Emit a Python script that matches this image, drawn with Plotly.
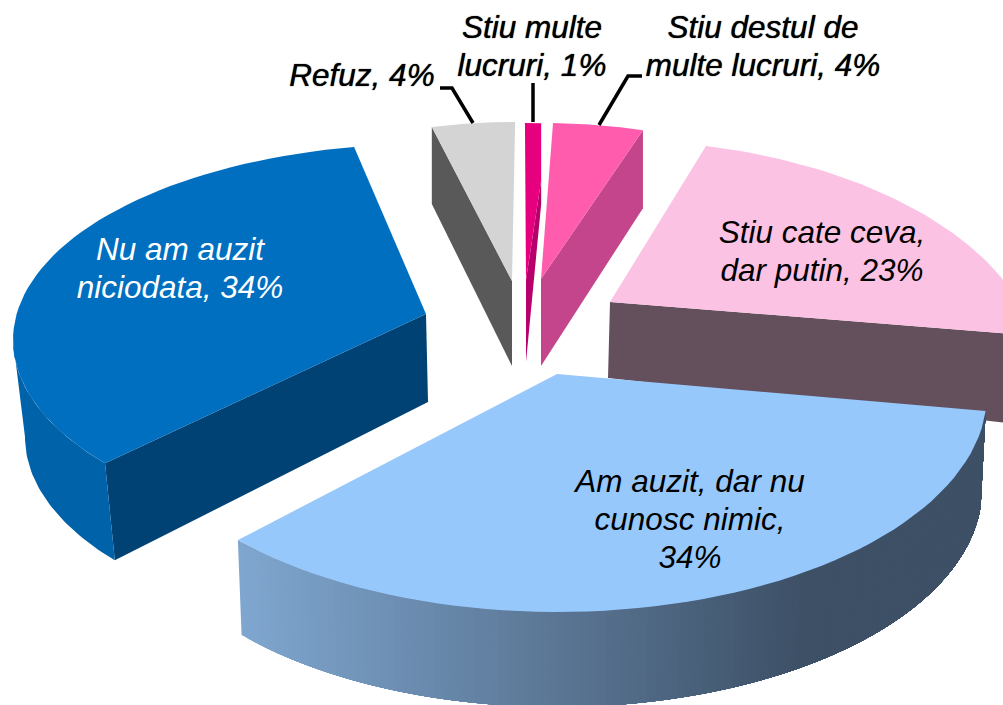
import numpy as np
import plotly.graph_objects as go

# ---- data (clockwise from the top) ----
categories = ["Stiu multe lucruri", "Stiu destul de multe lucruri", "Stiu cate ceva, dar putin",
              "Am auzit, dar nu cunosc nimic", "Nu am auzit niciodata", "Refuz"]
values = [1, 4, 23, 34, 34, 4]
label_lines = [["Stiu multe", "lucruri, 1%"], ["Stiu destul de", "multe lucruri, 4%"], ["Stiu cate ceva,", "dar putin, 23%"],
               ["Am auzit, dar nu", "cunosc nimic,", "34%"], ["Nu am auzit", "niciodata, 34%"], ["Refuz, 4%"]]

# ---- styling and 3-D look of every exploded slice ----
face = ["#E6007E", "#FF5CAE", "#FBC2E3", "#97C8FB", "#006FBF", "#D4D4D4"]
wall = ["#B8006C", "#C4458C", "#64505C", "#3D5066", "#004274", "#595959"]
geom = [
    dict(apex=(526, 280), a=300, b=137, e=-20, ustart=-0.2, gain=0.86, base=(526, 362), a2=300, b2=137, e2=-21, radial="end", shoulder=57),
    dict(apex=(541, 279), a=300, b=120, e=-36, ustart=2.3, gain=1.22, base=(541, 366), a2=300, b2=120, e2=-45, radial="end"),
    dict(apex=(610, 302), a=430, b=235, e=73, ustart=12.9, gain=0.815, base=(608, 378), a2=430, b2=235, e2=87, radial="end"),
    dict(apex=(557, 374), a=430, b=218, e=20, ustart=94.5, gain=1.09, base=(557, 466), a2=425, b2=218, e2=23, gradient=True),
    dict(apex=(426, 314), a=413, b=196, e=26, ustart=231, gain=0.972, base=(428, 402), a2=403, b2=196, e2=35, radial="start", rim_to=270, rim_color="#0062A8"),
    dict(apex=(512, 281), a=300, b=139, e=-20, ustart=344.5, gain=1.118, base=(512, 366), a2=300, b2=139, e2=-28, radial="start"),
]
draw_order = [5, 0, 1, 4, 2, 3]
label_x = [532, 763, 822, 690, 180, 362]
label_y = [30, 30, 235, 484, 252, 78]   # centre of the first line
label_color = ["black", "black", "black", "black", "white", "black"]
label_shadow = ["0 0 1px black", "0 0 1px black", "none", "none", "none", "0 0 1px black"]
leaders = [([440, 452, 473], [88, 88, 123]), ([533, 533], [83, 122]), ([642, 628, 599], [76, 76, 125])]
FONT = "Liberation Sans"
FONT_SIZE = 31.5
LINE_STEP = 38


def rim(g, u):
    r = np.radians(u)
    return g["apex"][0] + g["a"] * np.sin(r), g["apex"][1] + g["e"] - g["b"] * np.cos(r)


def rim2(g, u):
    r = np.radians(u)
    return g["base"][0] + g["a2"] * np.sin(r), g["base"][1] + g["e2"] - g["b2"] * np.cos(r)


def poly(xs, ys, color):
    return go.Scatter(x=list(xs), y=list(ys), mode="lines", fill="toself", fillcolor=color,
                      line=dict(width=0, color=color), hoverinfo="skip", showlegend=False)


def mix(c1, c2, f):
    return "rgb(%d,%d,%d)" % tuple(round(p + (q - p) * f) for p, q in zip(c1, c2))


fig = go.Figure()
for i in draw_order:
    g = geom[i]
    u0 = g["ustart"]
    u1 = u0 + g["gain"] * values[i] * 3.6
    shoulder = g.get("shoulder", 0)
    # walls first
    if g.get("radial"):
        u = u0 if g["radial"] == "start" else u1
        rx, ry = rim(g, u)
        bx, by = rim2(g, u)
        fig.add_trace(poly([g["apex"][0], rx, bx, g["base"][0]],
                           [g["apex"][1], ry + shoulder, by, g["base"][1]], wall[i]))
    if g.get("rim_to"):
        us = np.linspace(u0, g["rim_to"], 40)
        tx, ty = rim(g, us)
        bx, by = rim2(g, us)
        fig.add_trace(poly(np.r_[tx, bx[::-1]], np.r_[ty, by[::-1]], g["rim_color"]))
    if g.get("gradient"):
        # painter's gradient: each band runs to the far end and overpaints the one before
        for end in np.linspace(u1, u0 + 1, 120):
            us = np.linspace(u0, end, 60)
            tx, ty = rim(g, us)
            bx, by = rim2(g, us)
            f = min(max((float(tx[-1]) - 240) / (800 - 240), 0), 1)
            col = mix((127, 166, 207), (61, 80, 102), f)
            fig.add_trace(poly(np.r_[tx, bx[::-1]], np.r_[ty, by[::-1]], col))
    # top face
    us = np.linspace(u0, u1, 60)
    fx, fy = rim(g, us)
    fxs = list(fx)
    fys = list(fy)
    if shoulder:
        fxs.append(fx[-1])
        fys.append(fy[-1] + shoulder)
    fxs.append(g["apex"][0])
    fys.append(g["apex"][1])
    fig.add_trace(poly(fxs, fys, face[i]))

for lx, ly in leaders:
    fig.add_trace(go.Scatter(x=lx, y=ly, mode="lines", line=dict(color="black", width=3.5),
                             hoverinfo="skip", showlegend=False))

for i in range(len(values)):
    lines = label_lines[i]
    fig.add_trace(go.Scatter(x=[label_x[i]] * len(lines),
                             y=[label_y[i] + k * LINE_STEP for k in range(len(lines))],
                             mode="text", text=lines, textposition="middle center",
                             textfont=dict(family=FONT, size=FONT_SIZE, color=label_color[i], style="italic",
                                           shadow=label_shadow[i]),
                             hoverinfo="skip", showlegend=False, name=categories[i]))

fig.update_layout(width=1003, height=705, margin=dict(l=0, r=0, t=0, b=0),
                  paper_bgcolor="white", plot_bgcolor="white", showlegend=False,
                  xaxis=dict(range=[0, 1003], visible=False, fixedrange=True),
                  yaxis=dict(range=[705, 0], visible=False, fixedrange=True))
fig.write_html("out.html", config=dict(displayModeBar=False), post_script="document.body.style.margin='0';")
